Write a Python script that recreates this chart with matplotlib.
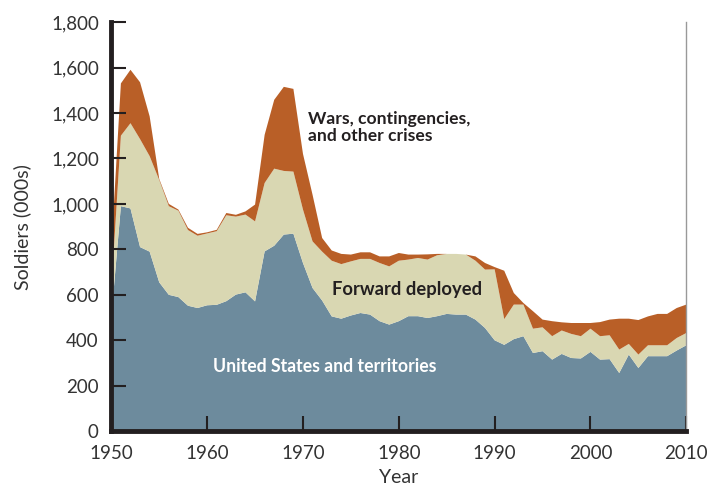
import numpy as np
import matplotlib
matplotlib.use("Agg")
import matplotlib.pyplot as plt

plt.rcParams['font.family'] = ['Lato', 'DejaVu Sans']

years = np.arange(1950, 2011)

# thousands of soldiers, by component (stacked)
us_territories = [500, 990, 980, 810, 790, 655, 600, 590, 552, 542,
                  554, 556, 572, 601, 611, 571, 791, 816, 865, 869,
                  740, 630, 575, 505, 495, 509, 520, 513, 484, 469,
                  484, 506, 506, 498, 506, 516, 513, 513, 491, 454,
                  400, 380, 405, 418, 344, 352, 315, 340, 322, 320,
                  349, 315, 317, 256, 337, 278, 330, 330, 330, 355,
                  378]
forward_deployed = [120, 310, 375, 475, 420, 450, 390, 380, 333, 318,
                    316, 324, 378, 343, 342, 352, 301, 339, 280, 273,
                    235, 205, 215, 245, 240, 238, 238, 245, 256, 256,
                    266, 249, 256, 257, 268, 264, 267, 264, 259, 257,
                    312, 113, 152, 139, 107, 105, 103, 103, 106, 98,
                    102, 103, 105, 103, 47, 59, 48, 48, 48, 55,
                    54]
wars_crises = [180, 230, 235, 250, 175, 5, 10, 5, 10, 8,
               5, 6, 10, 8, 14, 74, 212, 303, 370, 364,
               245, 205, 60, 45, 45, 30, 29, 29, 29, 44,
               34, 22, 15, 23, 6, 0, 0, 0, 19, 29,
               10, 213, 51, 7, 77, 34, 66, 36, 48, 58,
               25, 62, 69, 136, 111, 152, 127, 138, 138, 132,
               125]

colors = ['#6d8b9d', '#d9d7b2', '#b95f27']
dark = '#231f20'

fig = plt.figure(figsize=(7.09, 4.90), dpi=100)
ax = fig.add_axes([0.157, 0.12, 0.811, 0.835])

ax.stackplot(years, us_territories, forward_deployed, wars_crises,
             colors=colors, linewidth=0)

ax.set_xlim(1950, 2010)
ax.set_ylim(0, 1800)
ax.set_xticks(range(1950, 2011, 10))
ax.set_yticks(range(0, 1801, 200))
ax.yaxis.set_major_formatter(matplotlib.ticker.StrMethodFormatter('{x:,.0f}'))

ax.tick_params(direction='in', length=11, width=1.5, color=dark,
               labelsize=13.5, labelcolor='#333333')
ax.tick_params(axis='y', pad=9)
ax.tick_params(axis='x', pad=10)

for s in ['left', 'bottom']:
    ax.spines[s].set_linewidth(3.5)
    ax.spines[s].set_color(dark)
ax.spines['top'].set_visible(False)
ax.spines['right'].set_color('#999999')
ax.spines['right'].set_linewidth(1)

ax.set_xlabel('Year', fontsize=14, color='#333333', labelpad=5)
ax.set_ylabel('Soldiers (000s)', fontsize=14, color='#333333', labelpad=14)

ax.text(1970.5, 1335, 'Wars, contingencies,\nand other crises', fontsize=12.6,
        fontweight='bold', color=dark, ha='left', va='center', linespacing=1.05)
ax.text(1980.9, 625, 'Forward deployed', fontsize=13.2, fontweight='bold',
        color=dark, ha='center', va='center')
ax.text(1972.3, 283, 'United States and territories', fontsize=12.7,
        fontweight='bold', color='white', ha='center', va='center')

fig.savefig('out.png', dpi=100)
